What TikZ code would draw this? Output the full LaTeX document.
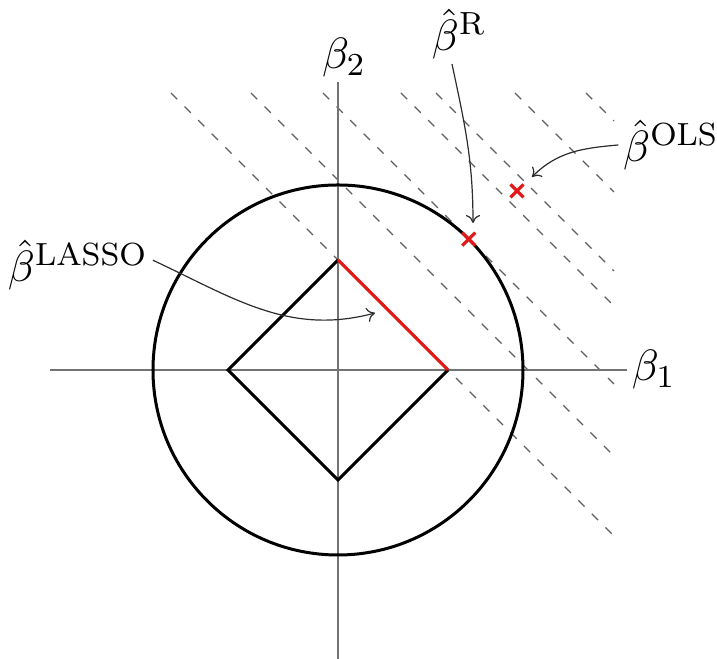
\documentclass[tikz,border=0pt]{standalone}
\usetikzlibrary{arrows.meta}
\definecolor{axisgray}{RGB}{115,115,115}
\definecolor{dashgray}{RGB}{95,95,95}
\definecolor{crossred}{RGB}{225,25,25}
\definecolor{notegray}{RGB}{45,45,45}
\begin{document}
\begin{tikzpicture}[x=0.25pt,y=0.25pt,
  axis/.style={draw=axisgray, line width=0.35pt},
  contour/.style={draw=dashgray, line width=0.3pt, dash pattern=on 2.2pt off 2.6pt},
  ball/.style={draw=black, line width=0.75pt, line join=miter},
  rededge/.style={draw=crossred, line width=0.8pt},
  crossmark/.style={draw=crossred, line width=0.8pt},
  lbl/.style={font=\fontsize{10.95}{13}\selectfont, inner sep=1pt},
  note/.style={draw=notegray, line width=0.3pt, -{To[length=2pt,width=3.6pt]}},
]
\useasboundingbox (-338,-289) rectangle (379,370);
% contour lines of the OLS loss
\draw[contour] (-167,277) -- (274,-164);
\foreach \c in {190,262,340,375,454,525}
  \draw[contour] (\c-277,277) -- (276,\c-276);
% axes
\coordinate (O) at (0,0);
\coordinate (xL) at (-288,0);
\coordinate (xR) at (289,0);
\coordinate (yB) at (0,-295);
\coordinate (yT) at (0,288);
\draw[axis] (xL) -- (xR);
\draw[axis] (yB) -- (yT);
\node[lbl, anchor=west] (b1) at (xR) {$\beta_1$};
\node[lbl, anchor=south, xshift=1.5pt] (b2) at (yT) {$\beta_2$};
% ridge ball
\draw[ball] (O) circle[radius=185];
% lasso diamond
\coordinate (dR) at (110,0);
\coordinate (dT) at (0,110);
\coordinate (dL) at (-110,0);
\coordinate (dB) at (0,-110);
\draw[ball] (dT) -- (dL) -- (dB) -- (dR);
\draw[rededge] (dT) -- (dR);
% estimates
\coordinate (ridge) at (130.8,130.8);
\coordinate (ols) at (179,179);
\draw[crossmark] (ridge) ++(-6.5,-6.5) -- ++(13,13) (ridge) ++(-6.5,6.5) -- ++(13,-13);
\draw[crossmark] (ols) ++(-6.5,-6.5) -- ++(13,13) (ols) ++(-6.5,6.5) -- ++(13,-13);
% labels
\node[lbl] (lassoL) at (-260,105) {$\hat\beta^{\mathrm{LASSO}}$};
\node[lbl] (ridgeL) at (121,336) {$\hat\beta^{\mathrm{R}}$};
\node[lbl] (olsL) at (333,225) {$\hat\beta^{\mathrm{OLS}}$};
% pointers
\coordinate (lassoTip) at (37,57);
\coordinate (ridgeTip) at (135,147);
\coordinate (olsTip) at (194,193);
\draw[note] ([yshift=1.2pt]lassoL.east) to[out=-25,in=195] (lassoTip);
\draw[note] ([xshift=-1.75pt]ridgeL.south) to[out=-78,in=90] (ridgeTip);
\draw[note] (olsL.west) to[out=185,in=45] (olsTip);
\end{tikzpicture}
\end{document}
